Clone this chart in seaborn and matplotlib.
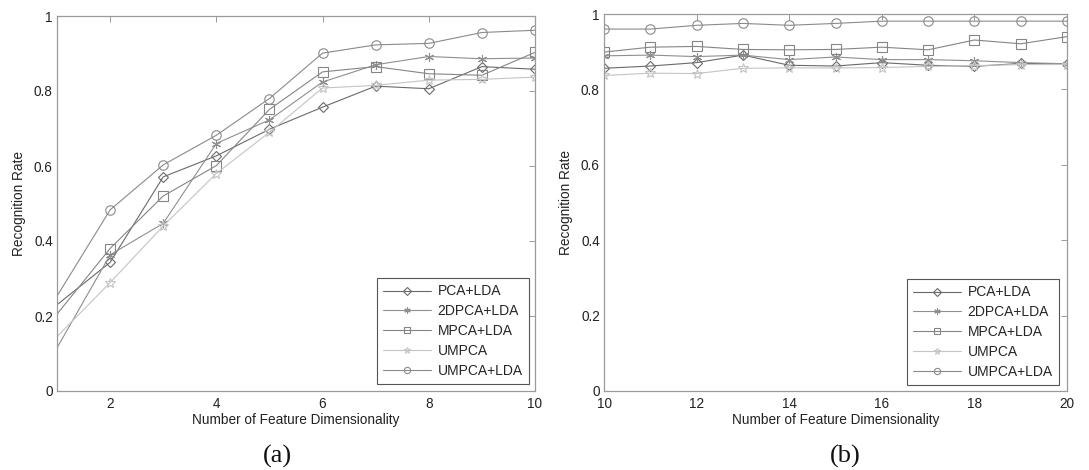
import matplotlib
matplotlib.use("Agg")
import matplotlib.pyplot as plt
import seaborn as sns

# ---------------- data ----------------
methods = ["PCA+LDA", "2DPCA+LDA", "MPCA+LDA", "UMPCA", "UMPCA+LDA"]

dims_a = [1, 2, 3, 4, 5, 6, 7, 8, 9, 10]
pca_lda_a = [0.230, 0.343, 0.571, 0.627, 0.698, 0.757, 0.813, 0.806, 0.865, 0.858]
dpca_lda_a = [0.115, 0.363, 0.447, 0.660, 0.723, 0.824, 0.870, 0.892, 0.886, 0.888]
mpca_lda_a = [0.205, 0.380, 0.520, 0.601, 0.751, 0.851, 0.865, 0.846, 0.842, 0.903]
umpca_a = [0.145, 0.289, 0.440, 0.580, 0.690, 0.808, 0.815, 0.829, 0.831, 0.837]
umpca_lda_a = [0.253, 0.483, 0.603, 0.682, 0.780, 0.901, 0.923, 0.927, 0.956, 0.962]

dims_b = [10, 11, 12, 13, 14, 15, 16, 17, 18, 19, 20]
pca_lda_b = [0.856, 0.862, 0.871, 0.891, 0.864, 0.862, 0.871, 0.864, 0.861, 0.869, 0.868]
dpca_lda_b = [0.889, 0.891, 0.887, 0.891, 0.879, 0.886, 0.879, 0.879, 0.876, 0.871, 0.868]
mpca_lda_b = [0.899, 0.912, 0.914, 0.906, 0.905, 0.906, 0.912, 0.905, 0.931, 0.921, 0.940]
umpca_b = [0.837, 0.843, 0.842, 0.856, 0.857, 0.857, 0.858, 0.861, 0.863, 0.866, 0.866]
umpca_lda_b = [0.960, 0.960, 0.970, 0.975, 0.970, 0.975, 0.981, 0.981, 0.981, 0.981, 0.981]

xticks_a = [2, 4, 6, 8, 10]
xticks_b = [10, 12, 14, 16, 18, 20]
yticks = [0, 0.2, 0.4, 0.6, 0.8, 1.0]
ytick_labels = ["0", "0.2", "0.4", "0.6", "0.8", "1"]
xlabel = "Number of Feature Dimensionality"
ylabel = "Recognition Rate"
captions = ["(a)", "(b)"]

# ---------------- style ----------------
sns.set_theme(style="white")
plt.rcParams["font.family"] = ["Liberation Sans", "DejaVu Sans"]
plt.rcParams["font.size"] = 9.8

colors = ["#6a6a6a", "#8f8f8f", "#858585", "#c4c4c4", "#8a8a8a"]
markers = ["D", (6, 2, 0), "s", "*", "o"]
msizes = [5.5, 6.5, 6.5, 7.5, 6.8]

fig = plt.figure(figsize=(10.89, 4.70), dpi=100)
ax_a = fig.add_axes([57 / 1089, 1 - 391 / 470, (535 - 57) / 1089, (391 - 16) / 470])
ax_b = fig.add_axes([604 / 1089, 1 - 391 / 470, (1067 - 604) / 1089, (391 - 14) / 470])

panels = [
    (ax_a, dims_a, [pca_lda_a, dpca_lda_a, mpca_lda_a, umpca_a, umpca_lda_a], xticks_a, (1, 10),
     ((529 - 57) / 478, (391 - 384) / 375), 1),
    (ax_b, dims_b, [pca_lda_b, dpca_lda_b, mpca_lda_b, umpca_b, umpca_lda_b], xticks_b, (10, 20),
     ((1059 - 604) / 463, (391 - 385) / 377), 0),
]

for ax, xs, series, xt, xlim, anchor, skip in panels:
    for name, vals, c, m, ms in zip(methods, series, colors, markers, msizes):
        sns.lineplot(x=xs, y=vals, ax=ax, color=c, marker=m, markersize=ms,
                     markerfacecolor="none", markeredgecolor=c, markeredgewidth=0.8,
                     linewidth=0.8, label=name)
    ax.set_xlim(*xlim)
    ax.set_ylim(0, 1)
    ax.set_xticks(xt)
    ax.set_xticklabels([str(t) for t in xt])
    ax.set_yticks(yticks)
    ax.set_yticklabels(ytick_labels)
    ax.set_xlabel(xlabel, fontsize=9.8, color="#222222", labelpad=2)
    ax.set_ylabel(ylabel, fontsize=9.8, color="#222222", labelpad=6)
    ax.tick_params(axis="both", direction="in", length=4, width=0.7, color="#9a9a9a",
                   top=True, right=True, labelsize=9.8, labelcolor="#222222")
    ax.tick_params(axis="x", pad=4)
    ax.tick_params(axis="y", pad=3)
    for sp in ax.spines.values():
        sp.set_visible(True)
        sp.set_color("#9a9a9a")
        sp.set_linewidth(0.9)
    leg = ax.legend(loc="lower right", bbox_to_anchor=anchor, borderaxespad=0,
                    fancybox=False, framealpha=1, edgecolor="#555555",
                    fontsize=10, handlelength=3.4, handletextpad=0.5,
                    labelspacing=0.42, borderpad=0.45)
    leg.get_frame().set_linewidth(0.8)
    for h in leg.legend_handles:
        h.set_markersize(4.5)
    # the first point of panel (a) is drawn without a marker, as in the reference
    if skip:
        for ln in ax.lines:
            ln.set_markevery(list(range(skip, len(xs))))

fig.text(277 / 1089, 1 - 456 / 470, captions[0], ha="center", va="center",
         fontsize=19, family=["Liberation Serif", "DejaVu Serif"], color="#111111")
fig.text(845 / 1089, 1 - 456 / 470, captions[1], ha="center", va="center",
         fontsize=19, family=["Liberation Serif", "DejaVu Serif"], color="#111111")

fig.savefig("out.png", dpi=100)
